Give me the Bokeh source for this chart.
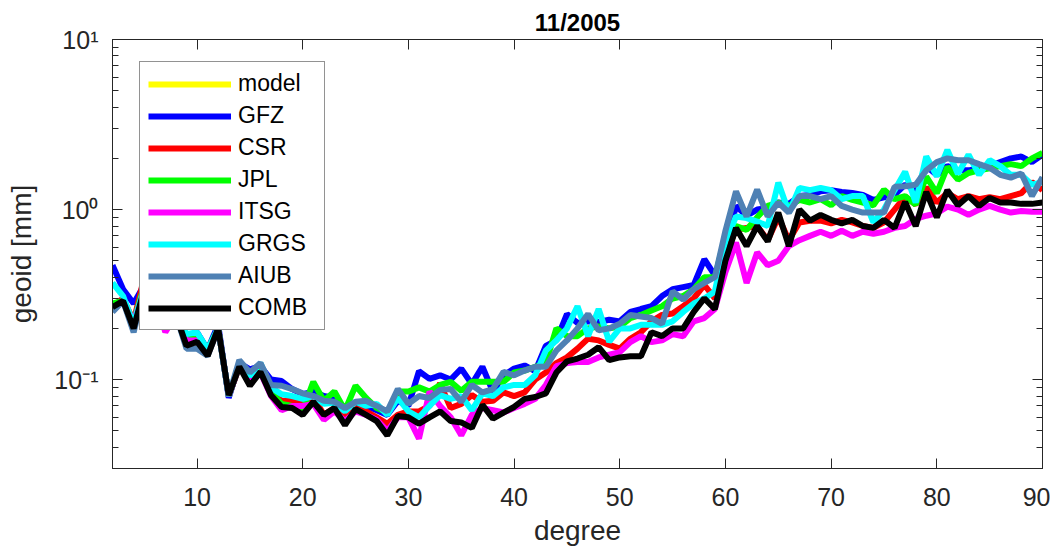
from bokeh.plotting import figure
from bokeh.models import (FixedTicker, LinearAxis, LogAxis, CustomJSTickFormatter,
                          Legend, LegendItem, Range1d)
from bokeh.embed import file_html
from bokeh.resources import INLINE

degree = list(range(2, 91))

# the model curve is not visible anywhere in the reference (hidden / no data)
model_degree = [2]
model = [float("nan")]

gfz = [0.47, 0.34, 0.28, 0.36, 0.32, 0.24, 0.25, 0.18, 0.19, 0.15,
       0.21, 0.078, 0.125, 0.115, 0.12, 0.10, 0.098, 0.088, 0.082, 0.085,
       0.08, 0.078, 0.068, 0.072, 0.07, 0.066, 0.062, 0.075, 0.07, 0.112,
       0.101, 0.106, 0.1, 0.116, 0.094, 0.119, 0.085, 0.106, 0.116, 0.121,
       0.112, 0.158, 0.17, 0.243, 0.215, 0.22, 0.218, 0.225, 0.22, 0.25,
       0.26, 0.27, 0.31, 0.34, 0.35, 0.36, 0.51, 0.41, 0.6, 1.05,
       0.92, 1.0, 1.02, 1.1, 1.08, 1.2, 1.22, 1.28, 1.3, 1.27,
       1.25, 1.22, 1.14, 1.18, 1.22, 1.4, 1.3, 1.8, 1.6, 1.8,
       1.7, 1.7, 1.75, 1.8, 1.9, 2.0, 2.05, 1.9, 2.1]

csr = [0.27, 0.3, 0.22, 0.4, 0.32, 0.23, 0.24, 0.17, 0.18, 0.145,
       0.2, 0.08, 0.12, 0.1, 0.115, 0.085, 0.075, 0.075, 0.073, 0.08,
       0.062, 0.068, 0.06, 0.068, 0.065, 0.06, 0.055, 0.062, 0.065, 0.065,
       0.07, 0.095, 0.068, 0.072, 0.081, 0.074, 0.075, 0.084, 0.08, 0.084,
       0.1, 0.11, 0.125, 0.135, 0.152, 0.174, 0.17, 0.16, 0.152, 0.174,
       0.19, 0.22, 0.24, 0.245, 0.27, 0.3, 0.36, 0.3, 0.55, 0.76,
       0.78, 0.8, 0.66, 0.9, 0.66, 0.84, 0.86, 0.86, 0.83, 0.87,
       0.84, 0.8, 0.78, 0.84, 1.0, 1.19, 1.07, 1.35, 1.1, 1.25,
       1.15, 1.2, 1.15, 1.18, 1.15, 1.2, 1.25, 1.45, 1.3]

jpl = [0.28, 0.29, 0.22, 0.36, 0.31, 0.23, 0.25, 0.18, 0.185, 0.15,
       0.2, 0.08, 0.12, 0.105, 0.115, 0.085, 0.072, 0.07, 0.066, 0.097,
       0.075, 0.085, 0.066, 0.092, 0.078, 0.068, 0.064, 0.085, 0.085, 0.09,
       0.085, 0.093, 0.097, 0.086, 0.097, 0.097, 0.097, 0.097, 0.11, 0.113,
       0.119, 0.125, 0.2, 0.18, 0.18, 0.2, 0.205, 0.2, 0.205, 0.23,
       0.24, 0.255, 0.27, 0.3, 0.31, 0.34, 0.4, 0.4, 0.7, 0.8,
       0.76, 0.9, 1.05, 1.1, 1.05, 1.14, 1.1, 1.15, 1.06, 1.2,
       1.14, 1.1, 1.06, 1.31, 1.15, 1.2, 1.07, 1.56, 1.25, 1.78,
       1.5, 1.64, 1.7, 1.75, 1.8, 1.85, 1.8, 2.0, 2.15]

itsg = [0.26, 0.29, 0.22, 0.34, 0.3, 0.19, 0.24, 0.17, 0.17, 0.14,
        0.2, 0.08, 0.12, 0.1, 0.11, 0.08, 0.066, 0.07, 0.07, 0.072,
        0.058, 0.065, 0.057, 0.065, 0.062, 0.058, 0.05, 0.06, 0.06, 0.045,
        0.085, 0.07, 0.06, 0.047, 0.062, 0.068, 0.066, 0.064, 0.068, 0.072,
        0.077, 0.093, 0.12, 0.125, 0.127, 0.127, 0.135, 0.14, 0.145, 0.166,
        0.18, 0.166, 0.17, 0.185, 0.18, 0.22, 0.23, 0.26, 0.43, 0.64,
        0.37, 0.56, 0.47, 0.5, 0.61, 0.66, 0.7, 0.74, 0.7, 0.75,
        0.7, 0.74, 0.72, 0.74, 0.78, 0.8, 0.88, 0.92, 0.95, 1.04,
        1.0, 0.93, 1.0, 1.05, 1.0, 0.96, 0.98, 0.97, 0.97]

grgs = [0.37, 0.31, 0.21, 0.35, 0.3, 0.22, 0.25, 0.185, 0.19, 0.15,
        0.2, 0.08, 0.125, 0.105, 0.125, 0.09, 0.082, 0.08, 0.077, 0.08,
        0.072, 0.073, 0.065, 0.074, 0.07, 0.072, 0.062, 0.078, 0.065, 0.06,
        0.07, 0.081, 0.077, 0.08, 0.066, 0.083, 0.08, 0.09, 0.093, 0.093,
        0.106, 0.148, 0.17, 0.2, 0.27, 0.18, 0.26, 0.167, 0.2, 0.2,
        0.21, 0.21, 0.21, 0.22, 0.25, 0.28, 0.3, 0.33, 0.65, 0.91,
        0.89, 0.85, 0.8, 1.44, 0.96, 1.34, 1.3, 1.34, 1.3, 1.15,
        1.2, 1.2, 0.84, 1.0, 1.3, 1.67, 1.1, 2.05, 1.57, 2.24,
        1.62, 2.1, 1.6, 1.95, 1.8, 1.6, 1.6, 1.4, 1.45]

aiub = [0.25, 0.29, 0.19, 0.34, 0.3, 0.22, 0.24, 0.152, 0.152, 0.138,
        0.2, 0.08, 0.13, 0.11, 0.125, 0.093, 0.092, 0.088, 0.083, 0.08,
        0.075, 0.074, 0.068, 0.074, 0.075, 0.07, 0.065, 0.088, 0.072, 0.08,
        0.078, 0.087, 0.088, 0.074, 0.093, 0.084, 0.088, 0.111, 0.106, 0.113,
        0.119, 0.119, 0.148, 0.17, 0.2, 0.243, 0.195, 0.2, 0.213, 0.24,
        0.235, 0.23, 0.213, 0.33, 0.295, 0.34, 0.37, 0.4, 0.75, 1.28,
        0.91, 1.31, 0.91, 1.1, 0.96, 1.2, 1.2, 1.15, 1.2, 1.05,
        1.0, 0.96, 0.96, 0.96, 1.36, 1.37, 1.4, 1.7, 1.9, 2.0,
        1.95, 1.95, 1.85, 1.76, 1.6, 1.54, 1.63, 1.2, 1.55]

comb = [0.267, 0.29, 0.2, 0.34, 0.3, 0.22, 0.24, 0.158, 0.167, 0.138,
        0.2, 0.081, 0.119, 0.092, 0.111, 0.081, 0.069, 0.068, 0.062, 0.074,
        0.062, 0.068, 0.054, 0.067, 0.062, 0.057, 0.047, 0.061, 0.06, 0.055,
        0.06, 0.065, 0.057, 0.056, 0.052, 0.071, 0.059, 0.064, 0.069, 0.077,
        0.079, 0.083, 0.11, 0.128, 0.133, 0.14, 0.155, 0.13, 0.135, 0.137,
        0.137, 0.19, 0.18, 0.2, 0.2, 0.25, 0.3, 0.26, 0.5, 0.78,
        0.61, 0.8, 0.65, 0.96, 0.61, 1.0, 0.86, 0.93, 0.87, 0.83,
        0.87, 0.8, 0.78, 0.87, 0.78, 1.11, 0.8, 1.27, 0.9, 1.3,
        1.06, 1.2, 1.05, 1.17, 1.1, 1.1, 1.08, 1.08, 1.1]

series_names = ["model", "GFZ", "CSR", "JPL", "ITSG", "GRGS", "AIUB", "COMB"]
series_values = [model, gfz, csr, jpl, itsg, grgs, aiub, comb]
series_colors = ["#FFFF00", "#0000FF", "#FF0000", "#00FF00", "#FF00FF",
                 "#00FFFF", "#4F81B4", "#000000"]

x_ticks = [10, 20, 30, 40, 50, 60, 70, 80, 90]
y_ticks = [0.1, 1, 10]
y_minor = [0.03, 0.04, 0.05, 0.06, 0.07, 0.08, 0.09,
           0.2, 0.3, 0.4, 0.5, 0.6, 0.7, 0.8, 0.9,
           2, 3, 4, 5, 6, 7, 8, 9]

FONT = "Liberation Sans"
AX = "#262626"

p = figure(width=1050, height=548, y_axis_type="log",
           x_range=Range1d(2, 90), y_range=Range1d(0.03, 10),
           output_backend="svg", toolbar_location=None,
           min_border_left=112, min_border_right=8,
           min_border_top=39, min_border_bottom=78,
           title="11/2005")

p.title.align = "center"
p.title.text_font = FONT
p.title.text_font_size = "24px"
p.title.text_font_style = "bold"
p.title.text_color = "#000000"
p.title.standoff = 7

p.grid.visible = False
p.outline_line_color = AX
p.background_fill_color = "white"
p.border_fill_color = "white"

ytick_fmt = CustomJSTickFormatter(code="""
const e = Math.round(Math.log10(tick));
const m = {"-1": "\\u207b\\u00b9", "0": "\\u2070", "1": "\\u00b9"};
return "10" + m[String(e)];
""")
blank_fmt = CustomJSTickFormatter(code="return '';")

xax = p.xaxis[0]
xax.ticker = FixedTicker(ticks=x_ticks)
xax.axis_label = "degree"
yax = p.yaxis[0]
yax.ticker = FixedTicker(ticks=y_ticks, minor_ticks=y_minor)
yax.formatter = ytick_fmt
yax.axis_label = "geoid [mm]"

for ax in (xax, yax):
    ax.axis_line_color = AX
    ax.major_tick_line_color = AX
    ax.minor_tick_line_color = AX
    ax.major_tick_in = 10
    ax.major_tick_out = 0
    ax.minor_tick_in = 6
    ax.minor_tick_out = 0
    ax.major_label_text_font = FONT
    ax.major_label_text_font_size = "25px"
    ax.major_label_text_color = AX
    ax.axis_label_text_font = FONT
    ax.axis_label_text_font_size = "28px"
    ax.axis_label_text_font_style = "normal"
    ax.axis_label_text_color = AX
xax.minor_tick_line_color = None
xax.major_label_text_line_height = 1.0
xax.axis_label_text_line_height = 1.0
xax.major_label_standoff = 19
xax.axis_label_standoff = 6
yax.major_label_standoff = 14
yax.axis_label_standoff = 14

top = LinearAxis(ticker=FixedTicker(ticks=x_ticks), formatter=blank_fmt,
                 major_label_standoff=0, major_tick_in=10, major_tick_out=0,
                 minor_tick_line_color=None, axis_line_color=AX,
                 major_tick_line_color=AX)
p.add_layout(top, "above")
right = LogAxis(ticker=FixedTicker(ticks=y_ticks, minor_ticks=y_minor),
                formatter=blank_fmt, major_label_standoff=0,
                major_tick_in=10, major_tick_out=0, minor_tick_in=6, minor_tick_out=0,
                axis_line_color=AX, major_tick_line_color=AX, minor_tick_line_color=AX)
p.add_layout(right, "right")

items = []
for name, vals, col in zip(series_names, series_values, series_colors):
    xs = model_degree if name == "model" else degree
    r = p.line(xs, vals, line_color=col, line_width=6)
    items.append(LegendItem(label=name, renderers=[r]))

legend = Legend(items=items, location=(27, 138))
legend.label_text_font = FONT
legend.label_text_font_size = "23px"
legend.label_text_color = "#000000"
legend.glyph_width = 83
legend.glyph_height = 26
legend.label_height = 26
legend.label_width = 78
legend.spacing = 5
legend.padding = 8
legend.label_standoff = 7
legend.margin = 0
legend.border_line_color = AX
legend.border_line_width = 1
legend.background_fill_color = "white"
legend.background_fill_alpha = 1.0
p.add_layout(legend)

open("out.html", "w").write(file_html(p, INLINE))
